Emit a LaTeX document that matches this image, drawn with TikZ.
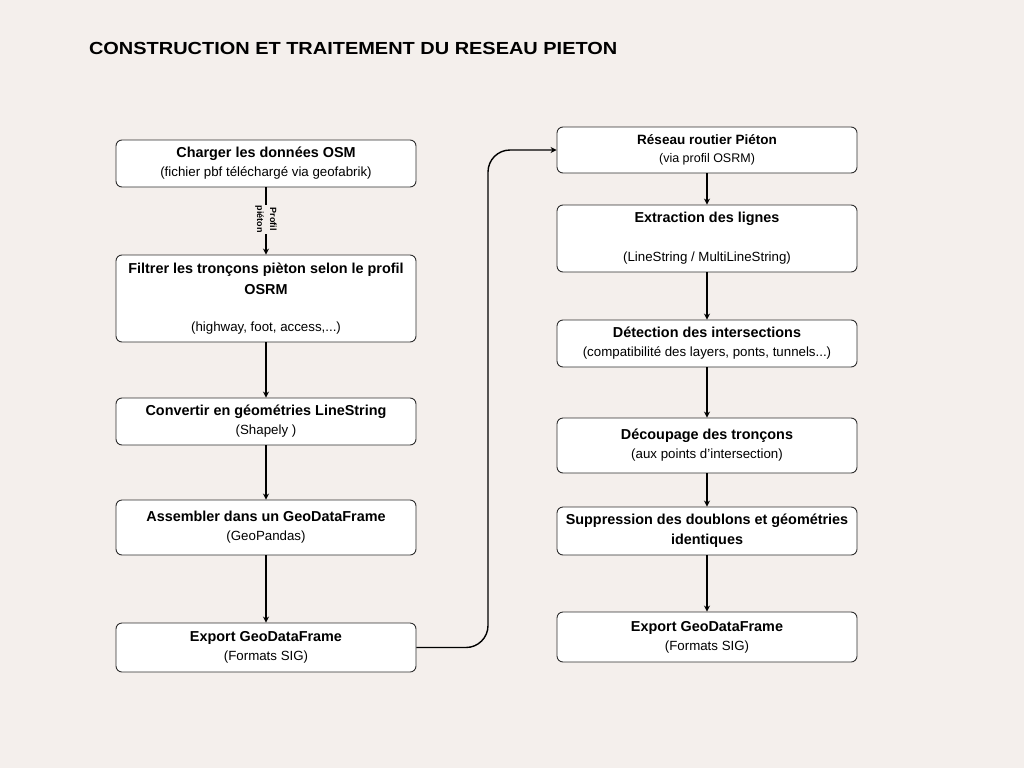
\documentclass[tikz,border=0pt]{standalone}
\usepackage{fontspec}
\setmainfont{Liberation Sans}
\usetikzlibrary{arrows.meta}
\definecolor{bg}{HTML}{F4EFEC}
\definecolor{boxline}{HTML}{2E2E2E}
\newcommand{\ttl}[1]{{\fontsize{14.4}{19}\selectfont\bfseries #1}}
\tikzset{
  stepbox/.style={draw=boxline, line width=0.9pt, fill=white, rounded corners=6pt,
    minimum width=300pt, align=center, inner sep=0pt, font=\fontsize{13.3}{19}\selectfont},
  arr/.style={draw=black, line width=1.4pt, -{Stealth[length=6pt,width=6pt]}},
  flowlabel/.style={rotate=-90, fill=bg, align=center, inner sep=1pt,
    font=\fontsize{9}{13}\selectfont\bfseries},
}
\begin{document}
\begin{tikzpicture}[x=1pt,y=-1pt]
\fill[bg] (0,0) rectangle (1024,768);
\useasboundingbox (0,0) rectangle (1024,768);

\node[anchor=west, xscale=1.14, font=\fontsize{17.5}{20}\selectfont\bfseries] (title) at (85,48)
  {CONSTRUCTION ET TRAITEMENT DU RESEAU PIETON};

% left column
\node[stepbox, minimum height=47pt] (L1) at (266,163.5)
  {\ttl{Charger les données OSM}\\(fichier pbf téléchargé via geofabrik)};
\node[stepbox, minimum height=87pt] (L2) at (266,298.5)
  {\ttl{Filtrer les tronçons pièton selon le profil}\\[2pt]\ttl{OSRM}\\[18pt](highway, foot, access,...)};
\node[stepbox, minimum height=47pt] (L3) at (266,421.5)
  {\ttl{Convertir en géométries LineString}\\(Shapely )};
\node[stepbox, minimum height=55pt] (L4) at (266,527.5)
  {\ttl{Assembler dans un GeoDataFrame}\\(GeoPandas)};
\node[stepbox, minimum height=49pt] (L5) at (266,647.5)
  {\ttl{Export GeoDataFrame}\\(Formats SIG)};

% right column
\node[stepbox, minimum height=46pt] (R1) at (707,150)
  {{\fontsize{13.5}{18}\selectfont\bfseries Réseau routier Piéton}\\[-1pt]{\fontsize{12.5}{18}\selectfont (via profil OSRM)}};
\node[stepbox, minimum height=67pt] (R2) at (707,238.5)
  {\ttl{Extraction des lignes}\\[20pt](LineString / MultiLineString)};
\node[stepbox, minimum height=47pt] (R3) at (707,343.5)
  {\ttl{Détection des intersections}\\(compatibilité des layers, ponts, tunnels...)};
\node[stepbox, minimum height=55pt] (R4) at (707,445.5)
  {\ttl{Découpage des tronçons}\\(aux points d'intersection)};
\node[stepbox, minimum height=48pt] (R5) at (707,531)
  {\ttl{Suppression des doublons et géométries}\\[1pt]\ttl{identiques}};
\node[stepbox, minimum height=50pt] (R6) at (707,637)
  {\ttl{Export GeoDataFrame}\\(Formats SIG)};

% connectors
\draw[arr] (L1.south) -- node[flowlabel, pos=0.5, xshift=-2pt] (pl) {Profil\\piéton} (L2.north);
\draw[arr] (L2) -- (L3);
\draw[arr] (L3) -- (L4);
\draw[arr] (L4) -- (L5);
\coordinate (mid) at (488,400);
\draw[arr, rounded corners=22pt] (L5.east) -- (L5.east -| mid) -- (R1.west -| mid) -- (R1.west);
\draw[arr] (R1) -- (R2);
\draw[arr] (R2) -- (R3);
\draw[arr] (R3) -- (R4);
\draw[arr] (R4) -- (R5);
\draw[arr] (R5) -- (R6);
\end{tikzpicture}
\end{document}
